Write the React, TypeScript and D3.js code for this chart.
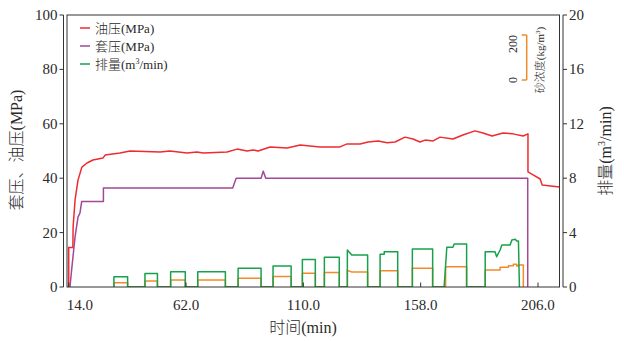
import React from "react";
import * as d3 from "d3";

// 油压 (MPa)
const oilT = [14, 14, 15.7, 15.8, 16.6, 17.8, 19.4, 21.5, 23.9, 28.0, 28.9, 35.0, 39.1, 51.4, 55.4, 62.4, 66.5, 69.0, 78.8, 82.9, 87.0, 89.4, 91.5, 96.4, 103.4, 108.7, 116.8, 125.0, 127.9, 133.2, 136.5, 140.6, 144.3, 147.5, 151.6, 154.9, 157.7, 159.8, 163.1, 165.9, 171.2, 175.3, 180.2, 183.5, 187.2, 191.7, 195.8, 199.9, 201.9, 201.9, 204.0, 206.9, 207.7, 214.8];
const oilP = [0, 14.5, 14.5, 22.1, 32.0, 39.3, 44.1, 45.6, 46.7, 47.4, 48.5, 49.3, 50.0, 49.6, 50.0, 49.3, 49.6, 49.3, 49.6, 50.7, 50.0, 50.4, 50.0, 51.5, 51.1, 52.2, 51.5, 51.5, 52.6, 52.6, 53.3, 53.7, 53.0, 53.3, 55.1, 54.4, 53.3, 54.0, 53.7, 55.1, 54.4, 55.9, 57.4, 56.6, 55.5, 56.6, 56.3, 55.5, 56.3, 42.3, 41.2, 39.7, 37.5, 36.8];

// 套压 (MPa)
const casT = [14.5, 15.2, 16.6, 17.8, 18.6, 19.3, 28.2, 28.2, 81.1, 82.5, 92.7, 93.6, 94.6, 201.8, 201.8];
const casP = [0, 6.3, 18.4, 25.7, 27.2, 31.4, 31.4, 36.4, 36.4, 40.0, 40.0, 42.6, 40.0, 40.0, 0];

// 排量 (m3/min)
const rateT = [32.5, 32.5, 38.1, 38.1, 45.2, 45.2, 50.3, 50.3, 55.7, 55.7, 61.7, 61.7, 66.8, 66.8, 78.1, 78.1, 83.3, 83.3, 92.7, 92.7, 97.6, 97.6, 105.0, 105.0, 109.6, 109.6, 114.9, 114.9, 118.6, 118.6, 124.7, 124.7, 128.0, 128.0, 129.8, 136.3, 136.3, 141.4, 141.4, 143.1, 143.1, 148.6, 148.6, 154.6, 154.6, 162.9, 162.9, 167.6, 168.7, 171.2, 171.7, 176.8, 176.8, 184.4, 184.4, 188.4, 189.1, 190.5, 191.2, 194.6, 195.3, 196.7, 197.3, 198.0, 198.4];
const rateV = [0, 0.76, 0.76, 0, 0, 1.0, 1.0, 0, 0, 1.13, 1.13, 0, 0, 1.13, 1.13, 0, 0, 1.37, 1.37, 0, 0, 1.54, 1.54, 0, 0, 2.03, 2.03, 0, 0, 2.18, 2.18, 0, 0, 2.72, 2.35, 2.35, 0, 0, 2.40, 2.40, 2.60, 2.60, 0, 0, 2.79, 2.79, 0, 0, 2.92, 2.92, 3.16, 3.16, 0, 0, 2.60, 2.60, 2.23, 2.72, 3.09, 3.09, 3.46, 3.51, 3.38, 3.38, 0];

// 砂浓度 (kg/m3)
const sandT = [32.5, 32.5, 38.1, 38.1, 45.2, 45.2, 50.3, 50.3, 55.7, 55.7, 61.7, 61.7, 66.8, 66.8, 78.1, 78.1, 83.3, 83.3, 92.7, 92.7, 97.6, 97.6, 105.0, 105.0, 109.6, 109.6, 114.9, 114.9, 118.6, 118.6, 124.7, 124.7, 128.0, 128.0, 129.8, 136.3, 136.3, 141.4, 141.4, 148.6, 148.6, 154.6, 154.6, 162.9, 162.9, 168.2, 168.2, 176.8, 176.8, 184.4, 184.4, 190.5, 190.5, 193.9, 193.9, 195.9, 195.9, 197.3, 197.3, 198.0, 198.0, 200.0, 200.0];
const sandV = [0, 19, 19, 0, 0, 26.7, 26.7, 0, 0, 31, 31, 0, 0, 31, 31, 0, 0, 38.5, 38.5, 0, 0, 47, 47, 0, 0, 61, 61, 0, 0, 64, 64, 0, 0, 74, 67, 67, 0, 0, 72, 72, 0, 0, 83, 83, 0, 0, 90, 90, 0, 0, 75.6, 75.6, 87.5, 87.5, 94.7, 94.7, 100.9, 100.9, 93.3, 93.3, 97.8, 97.8, 0];

const xTicks = [14, 62, 110, 158, 206];
const leftTicks = [0, 20, 40, 60, 80, 100];
const rightTicks = [0, 4, 8, 12, 16, 20];
const insetTicks = [0, 200];

const legendItems = [
  { label: "油压(MPa)", color: "#ef2b30" },
  { label: "套压(MPa)", color: "#a24896" },
  { label: "排量(m", sup: "3", tail: "/min)", color: "#16a24c" },
];

const FONT = "'Liberation Serif', 'Times New Roman', 'Noto Sans CJK SC', serif";

export default function App() {
  const L = 67, R = 559.5, T = 15, B = 287;
  const x = d3.scaleLinear().domain([13.3, 214.8]).range([L, R]);
  const yL = d3.scaleLinear().domain([0, 100]).range([B, T]);
  const yR = d3.scaleLinear().domain([0, 20]).range([B, T]);
  const yS = d3.scaleLinear().domain([0, 200]).range([B, B - 45]);
  const yInset = d3.scaleLinear().domain([0, 200]).range([80, 35]);

  const mk = (ts: number[], vs: number[], ys: d3.ScaleLinear<number, number>) =>
    d3.line<number>().x((_, i) => x(ts[i])).y((d) => ys(d))(vs) || "";

  const oilPath = mk(oilT, oilP, yL);
  const casPath = mk(casT, casP, yL);
  const ratePath = mk(rateT, rateV, yR);
  const sandPath = mk(sandT, sandV, yS);

  const axisColor = "#333";
  const txt = "#2a2a2a";
  const insetX = 526.7;

  return (
    <svg width={624} height={341} style={{ position: "absolute", left: 0, top: 0, background: "#fff" }} fontFamily={FONT}>
      <defs>
        <clipPath id="plot">
          <rect x={L} y={T} width={R - L} height={B - T} />
        </clipPath>
      </defs>
      <g clipPath="url(#plot)" fill="none" strokeWidth={1.5} strokeLinejoin="round">
        <path d={sandPath} stroke="#f38a2a" />
        <path d={ratePath} stroke="#16a24c" />
        <path d={casPath} stroke="#a24896" />
        <path d={oilPath} stroke="#ef2b30" />
      </g>

      <rect x={L} y={T} width={R - L} height={B - T} fill="none" stroke={axisColor} strokeWidth={1} />

      <line x1={63.5} x2={63.5} y1={T} y2={B} stroke={axisColor} />
      {leftTicks.map((t) => (
        <g key={"l" + t}>
          <line x1={59.5} x2={63.5} y1={yL(t)} y2={yL(t)} stroke={axisColor} />
          <text x={57.5} y={yL(t) + 5} fontSize={15} textAnchor="end" fill={txt}>{t}</text>
        </g>
      ))}

      <line x1={563} x2={563} y1={T} y2={B} stroke={axisColor} />
      {rightTicks.map((t) => (
        <g key={"r" + t}>
          <line x1={563} x2={567} y1={yR(t)} y2={yR(t)} stroke={axisColor} />
          <text x={569} y={yR(t) + 5} fontSize={15} textAnchor="start" fill={txt}>{t}</text>
        </g>
      ))}

      {xTicks.map((t, i) => (
        <g key={"x" + t}>
          <line x1={x(t)} x2={x(t)} y1={B} y2={B - 4.5} stroke={axisColor} />
          <text x={i === 0 ? x(t) - 2 : x(t)} y={310} fontSize={15} textAnchor={i === 0 ? "start" : "middle"} fill={txt}>
            {t.toFixed(1)}
          </text>
        </g>
      ))}

      <text x={303} y={333} fontSize={16} fontWeight={300} textAnchor="middle" fill={txt}>时间(min)</text>
      <text transform="translate(22,150) rotate(-90)" fontSize={16} fontWeight={300} textAnchor="middle" fill={txt}>套压、油压(MPa)</text>
      <text transform="translate(611,151) rotate(-90)" fontSize={16} fontWeight={300} textAnchor="middle" fill={txt}>
        排量(m<tspan dy={-6} fontSize={10}>3</tspan><tspan dy={6}>/min)</tspan>
      </text>

      {legendItems.map((it, i) => {
        const cy = 28 + i * 18;
        return (
          <g key={it.label}>
            <line x1={80} x2={90} y1={cy} y2={cy} stroke={it.color} strokeWidth={1.5} />
            <text x={95} y={cy + 4.5} fontSize={13} fontWeight={300} fill={txt}>
              {it.label}
              {it.sup ? <tspan dy={-5} fontSize={8}>{it.sup}</tspan> : null}
              {it.tail ? <tspan dy={5}>{it.tail}</tspan> : null}
            </text>
          </g>
        );
      })}

      <line x1={insetX} x2={insetX} y1={yInset(0)} y2={yInset(200)} stroke="#f38a2a" strokeWidth={1.5} />
      {insetTicks.map((t) => (
        <line key={"it" + t} x1={insetX - 5} x2={insetX} y1={yInset(t)} y2={yInset(t)} stroke="#f38a2a" strokeWidth={1.5} />
      ))}
      <text transform={`translate(517,${yInset(0)}) rotate(-90)`} fontSize={12} textAnchor="middle" fill={txt}>0</text>
      <text transform={`translate(517,${yInset(200)}) rotate(-90)`} fontSize={12} textAnchor="end" fill={txt}>200</text>
      <text transform="translate(544,60) rotate(-90)" fontSize={11} fontWeight={300} textAnchor="middle" fill={txt}>
        砂浓度(kg/m<tspan dy={-4} fontSize={7}>3</tspan><tspan dy={4}>)</tspan>
      </text>
    </svg>
  );
}
